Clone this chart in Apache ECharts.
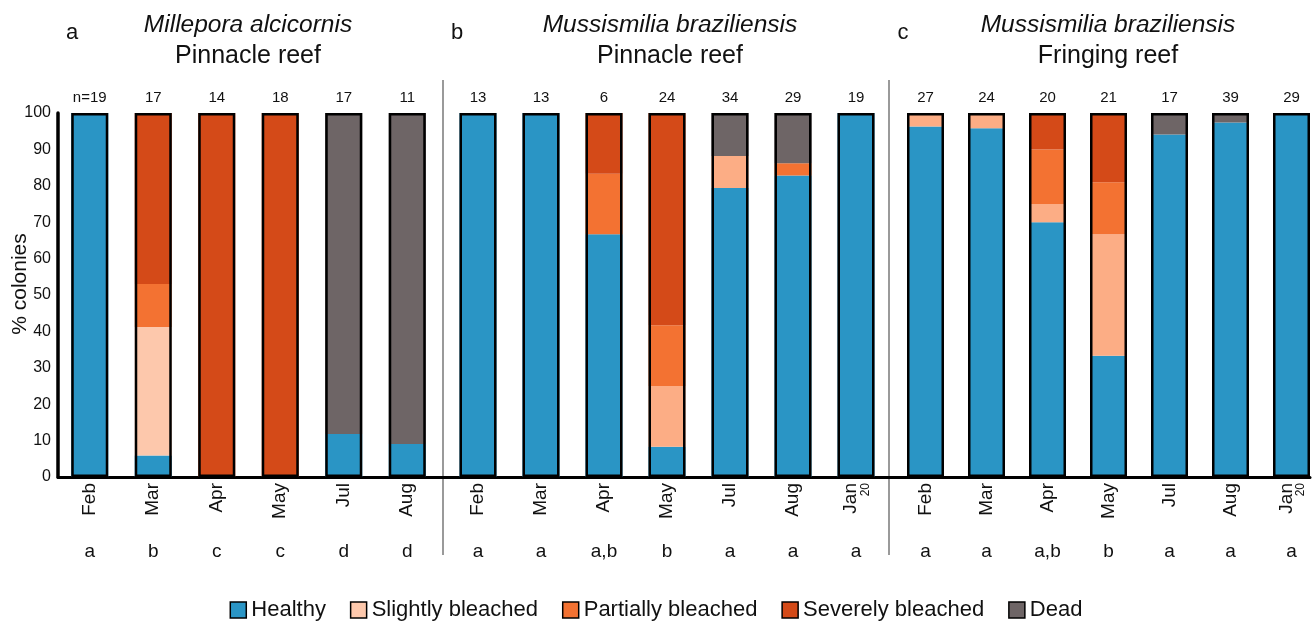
<!DOCTYPE html>
<html><head><meta charset="utf-8">
<script src="https://cdn.jsdelivr.net/npm/echarts@6/dist/echarts.min.js"></script>
<style>html,body{margin:0;padding:0;background:#fff}#c{width:1312px;height:632px}</style>
</head><body><div id="c"></div>
<script>
// ---- categories / tick labels ----
const monthsA = ['Feb','Mar','Apr','May','Jul','Aug'];
const monthsB = ['Feb','Mar','Apr','May','Jul','Aug','Jan20'];
const monthsC = ['Feb','Mar','Apr','May','Jul','Aug','Jan20'];
const nA = ['n=19','17','14','18','17','11'];
const nB = ['13','13','6','24','34','29','19'];
const nC = ['27','24','20','21','17','39','29'];
const sigA = ['a','b','c','c','d','d'];
const sigB = ['a','a','a,b','b','a','a','a'];
const sigC = ['a','a','a,b','b','a','a','a'];
const seriesNames = ['Healthy','Slightly bleached','Partially bleached','Severely bleached','Dead'];

// ---- panel a: Millepora alcicornis, Pinnacle reef (% colonies) ----
const healthyA  = [100, 5.9, 0, 0, 11.8, 9.1];
const slightA   = [0, 35.3, 0, 0, 0, 0];
const partialA  = [0, 11.8, 0, 0, 0, 0];
const severeA   = [0, 47.0, 100, 100, 0, 0];
const deadA     = [0, 0, 0, 0, 88.2, 90.9];

// ---- panel b: Mussismilia braziliensis, Pinnacle reef ----
const healthyB  = [100, 100, 66.7, 8.3, 79.4, 82.8, 100];
const slightB   = [0, 0, 0, 16.7, 8.8, 0, 0];
const partialB  = [0, 0, 16.6, 16.7, 0, 3.4, 0];
const severeB   = [0, 0, 16.7, 58.3, 0, 0, 0];
const deadB     = [0, 0, 0, 0, 11.8, 13.8, 0];

// ---- panel c: Mussismilia braziliensis, Fringing reef ----
const healthyC  = [96.3, 95.8, 70.0, 33.3, 94.1, 97.4, 100];
const slightC   = [3.7, 4.2, 5.0, 33.4, 0, 0, 0];
const partialC  = [0, 0, 15.0, 14.3, 0, 0, 0];
const severeC   = [0, 0, 10.0, 19.0, 0, 0, 0];
const deadC     = [0, 0, 0, 0, 5.9, 2.6, 0];

const FONT = '"Liberation Sans", Arial, sans-serif';
const TXT = '#111';
const colHealthy = '#2A95C5', colSlightA = '#FDC8AC', colSlightBC = '#FCAD85',
      colPartial = '#F37232', colSevere = '#D44A18', colDead = '#6E6566';

const grids = [
  {left: 58, width: 381, top: 113, bottom: 155, outerBoundsMode: 'none'},
  {left: 446.5, width: 441, top: 113, bottom: 155, outerBoundsMode: 'none'},
  {left: 895, width: 427, top: 113, bottom: 155, outerBoundsMode: 'none'},
  {left: 58, right: 2, top: 113, bottom: 155, outerBoundsMode: 'none'}
];

const xAxes = [];
const yAxes = [];
function addAxes(g, months, ns, sigs) {
  xAxes.push({
    type: 'category', gridIndex: g, position: 'bottom', data: months,
    axisLine: {show: false}, axisTick: {show: false},
    axisLabel: {
      interval: 0, rotate: 90, margin: 6, fontSize: 19, color: TXT, fontFamily: FONT,
      formatter: v => v === 'Jan20' ? 'Jan\n{s|20}' : v,
      rich: {s: {fontSize: 12, lineHeight: 10, color: TXT, fontFamily: FONT}}
    }
  });
  xAxes.push({
    type: 'category', gridIndex: g, position: 'top', data: ns,
    axisLine: {show: false}, axisTick: {show: false},
    axisLabel: {interval: 0, margin: 8, fontSize: 15, color: TXT, fontFamily: FONT}
  });
  xAxes.push({
    type: 'category', gridIndex: g, position: 'bottom', offset: 57, data: sigs,
    axisLine: {show: false}, axisTick: {show: false},
    axisLabel: {interval: 0, margin: 8, fontSize: 19, color: TXT, fontFamily: FONT}
  });
}
addAxes(0, monthsA, nA, sigA);
addAxes(1, monthsB, nB, sigB);
addAxes(2, monthsC, nC, sigC);
xAxes.push({type: 'value', gridIndex: 3, min: 0, max: 1,
  axisLine: {show: true, lineStyle: {color: '#000', width: 3}},
  axisTick: {show: false}, axisLabel: {show: false}, splitLine: {show: false}});

yAxes.push({
  type: 'value', gridIndex: 0, min: 0, max: 100, interval: 10,
  axisLine: {show: true, lineStyle: {color: '#000', width: 3.5}},
  axisTick: {show: false}, splitLine: {show: false},
  axisLabel: {fontSize: 16, margin: 7, color: TXT, fontFamily: FONT},
  name: '% colonies', nameLocation: 'middle', nameGap: 27, nameMoveOverlap: false,
  nameTextStyle: {fontSize: 21, color: TXT, fontFamily: FONT, padding: [0, 0, 0, 22]}
});
for (let g = 1; g <= 3; g++) yAxes.push({type: 'value', gridIndex: g, min: 0, max: 100, show: false});

const series = [];
function addPanel(g, arrs, slightColor) {
  const colors = [colHealthy, slightColor, colPartial, colSevere, colDead];
  arrs.forEach((arr, i) => {
    series.push({
      type: 'bar', name: seriesNames[i], xAxisIndex: g * 3, yAxisIndex: g,
      stack: 'p' + g, data: arr, barWidth: 37, silent: true,
      itemStyle: {color: colors[i]}
    });
  });
  const totals = arrs[0].map((_, j) => arrs.reduce((s, a) => s + a[j], 0));
  series.push({
    type: 'bar', name: 'outline' + g, xAxisIndex: g * 3, yAxisIndex: g,
    data: totals, barWidth: 37, barGap: '-100%', silent: true, z: 5,
    itemStyle: {color: 'rgba(0,0,0,0)', borderColor: '#000', borderWidth: 2.5}
  });
}
addPanel(0, [healthyA, slightA, partialA, severeA, deadA], colSlightA);
addPanel(1, [healthyB, slightB, partialB, severeB, deadB], colSlightBC);
addPanel(2, [healthyC, slightC, partialC, severeC, deadC], colSlightBC);

function txt(x, y, s, size, italic) {
  return {type: 'text', x: x, y: y, silent: true, style: {
    text: s, font: (italic ? 'italic ' : '') + size + 'px ' + FONT, fill: TXT,
    textAlign: 'center', textVerticalAlign: 'middle', align: 'center', verticalAlign: 'middle'}};
}
const graphics = [
  {type: 'line', silent: true, shape: {x1: 443, y1: 80, x2: 443, y2: 555}, style: {stroke: '#9a9a9a', lineWidth: 2}},
  {type: 'line', silent: true, shape: {x1: 889, y1: 80, x2: 889, y2: 555}, style: {stroke: '#9a9a9a', lineWidth: 2}},
  txt(72, 33, 'a', 22), txt(457, 33, 'b', 22), txt(903, 33, 'c', 22),
  txt(248, 25, 'Millepora alcicornis', 24.5, true), txt(248, 56, 'Pinnacle reef', 25),
  txt(670, 25, 'Mussismilia braziliensis', 24.5, true), txt(670, 56, 'Pinnacle reef', 25),
  txt(1108, 25, 'Mussismilia braziliensis', 24.5, true), txt(1108, 56, 'Fringing reef', 25)
];

const chart = echarts.init(document.getElementById('c'), null, {renderer: 'canvas'});
chart.setOption({
  animation: false,
  backgroundColor: '#fff',
  textStyle: {fontFamily: FONT},
  grid: grids,
  xAxis: xAxes,
  yAxis: yAxes,
  legend: {
    data: seriesNames, left: 'center', top: 594, icon: 'rect',
    itemWidth: 16, itemHeight: 16, itemGap: 24,
    itemStyle: {borderColor: '#000', borderWidth: 1.5},
    textStyle: {fontSize: 22, color: TXT, fontFamily: FONT}
  },
  series: series,
  graphic: graphics
});
</script></body></html>
